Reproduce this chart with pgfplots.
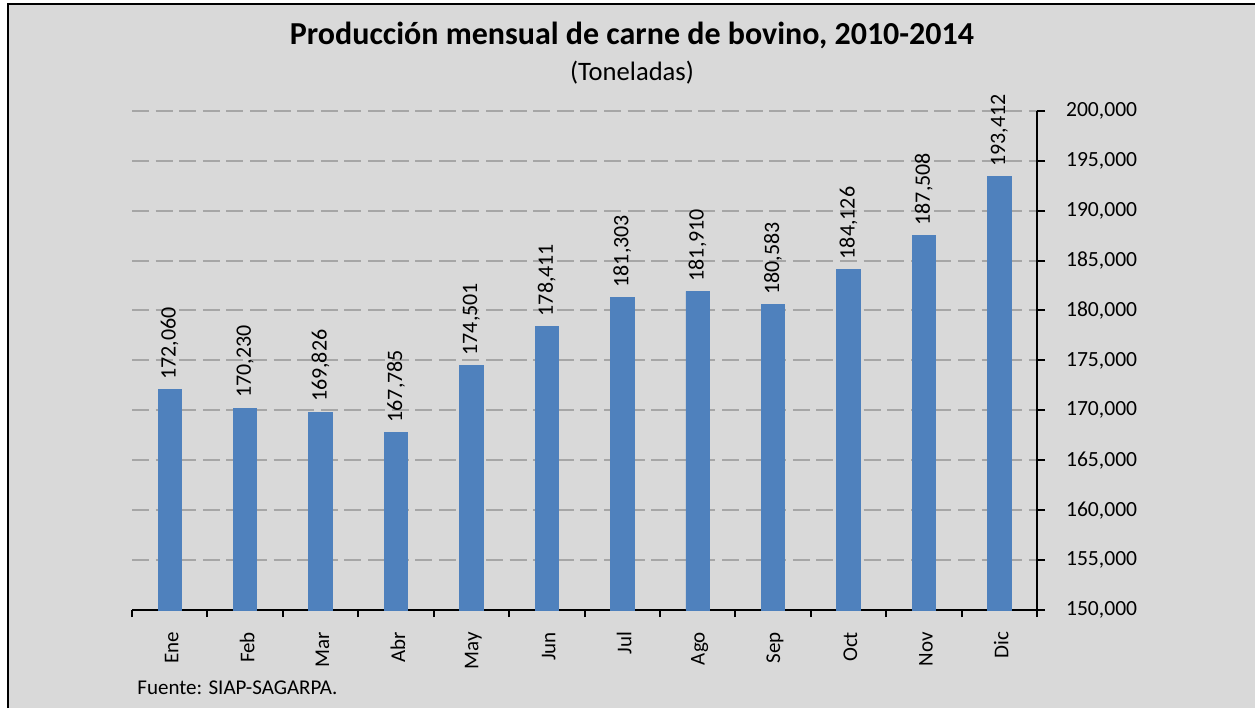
\documentclass[border=0pt]{standalone}
\usepackage{fontspec}
\setmainfont{Carlito}
\usepackage{pgfplots}
\pgfplotsset{compat=1.18}
\definecolor{bg}{HTML}{D9D9D9}
\definecolor{barblue}{HTML}{4F81BD}
\definecolor{gridgray}{HTML}{A6A6A6}
\begin{document}
\begin{tikzpicture}
  % page and frame
  \path[use as bounding box] (0,0) rectangle (627.5pt,354pt);
  \fill[bg] (4pt,0) rectangle (627.5pt,351.75pt);
  \draw[line width=1pt] (4pt,0) -- (4pt,351.75pt) -- (627.5pt,351.75pt);
  \node[font=\fontsize{16}{18}\selectfont\bfseries, anchor=base] at (316pt,331.5pt)
    {Producción mensual de carne de bovino, 2010-2014};
  \node[font=\fontsize{13.3}{15}\selectfont, anchor=base] at (316pt,313.8pt) {(Toneladas)};
  \node[font=\fontsize{10.5}{12}\selectfont, anchor=base west, inner sep=0pt] at (68.5pt,6.5pt)
    {Fuente: SIAP-SAGARPA.};
  \begin{axis}[
      at={(66pt,49pt)}, anchor=south west,
      scale only axis, width=452.5pt, height=249.6pt,
      xmin=-0.5, xmax=11.5, ymin=150000, ymax=200000,
      axis x line*=bottom, axis y line*=right,
      axis line style={line width=1pt, black},
      ybar, bar width=11.7pt, bar shift=0pt,
      xtick={0,...,11},
      xticklabels={Ene,Feb,Mar,Abr,May,Jun,Jul,Ago,Sep,Oct,Nov,Dic},
      minor xtick={-0.5,0.5,...,11.5},
      major x tick style={draw=none},
      minor x tick style={line width=1pt, black},
      minor tick length=3.5pt,
      major tick length=4pt,
      tick align=outside,
      ytick={150000,155000,...,200000},
      y tick style={line width=1pt, black},
      scaled y ticks=false,
      yticklabel style={xshift=7pt, font=\fontsize{10.8}{12}\selectfont,
        /pgf/number format/fixed, /pgf/number format/1000 sep={,},
        /pgf/number format/assume math mode=true},
      xticklabel style={rotate=90, anchor=east, yshift=-1pt, xshift=-3.5pt,
        font=\fontsize{10.5}{12}\selectfont},
      ymajorgrids,
      grid style={gridgray, line width=1pt, dash pattern=on 8.5pt off 3.3pt},
      nodes near coords,
      every node near coord/.append style={rotate=90, anchor=west, xshift=1.5pt,
        font=\fontsize{11}{12}\selectfont,
        /pgf/number format/fixed, /pgf/number format/1000 sep={,},
        /pgf/number format/assume math mode=true},
      clip=false,
    ]
    \addplot[fill=barblue, draw=barblue] coordinates {
      (0,172060) (1,170230) (2,169826) (3,167785) (4,174501) (5,178411)
      (6,181303) (7,181910) (8,180583) (9,184126) (10,187508) (11,193412)
    };
  \end{axis}
\end{tikzpicture}
\end{document}
